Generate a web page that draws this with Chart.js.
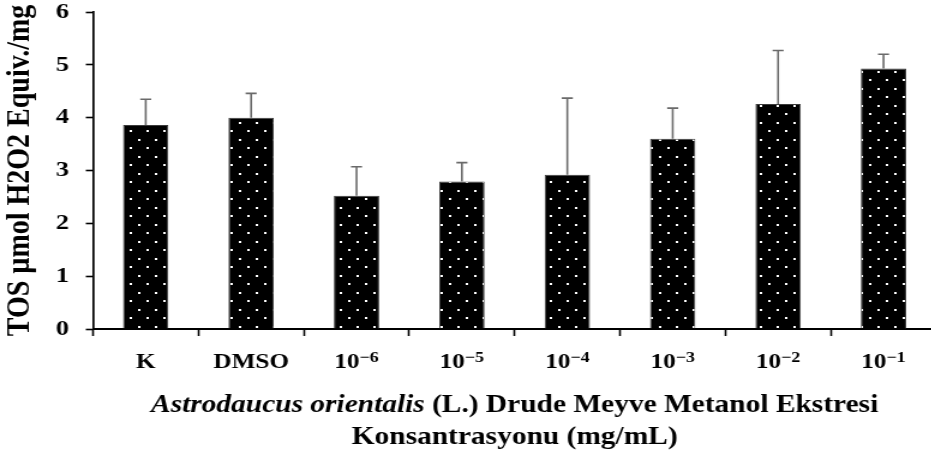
<!DOCTYPE html>
<html>
<head>
<meta charset="utf-8">
<script src="https://cdn.jsdelivr.net/npm/chart.js@4.4.1/dist/chart.umd.min.js"></script>
<style>
  html, body { margin: 0; padding: 0; overflow: hidden; background: #fff; }
  #wrap { width: 931px; height: 458px; overflow: hidden; }
  /* the figure is drawn on a 784-wide canvas and shown 1.2x wider */
  #c { display: block; width: 941px; height: 458px; }
</style>
</head>
<body>
<div id="wrap"><canvas id="c" width="784" height="458" style="width:941px;height:458px"></canvas></div>
<script>
// Categories (x axis)
const categories = ['K', 'DMSO', '10\u207B\u2076', '10\u207B\u2075', '10\u207B\u2074', '10\u207B\u00B3', '10\u207B\u00B2', '10\u207B\u00B9'];
// Mean TOS values (µmol H2O2 Equiv./mg)
const tosMeans = [3.86, 4.00, 2.52, 2.79, 2.92, 3.60, 4.26, 4.93];
// Upper error (standard deviation)
const tosErrors = [0.49, 0.46, 0.55, 0.36, 1.45, 0.58, 1.01, 0.27];
// Y axis ticks
const yTicks = [0, 1, 2, 3, 4, 5, 6];

const SERIF = '"Liberation Serif", "Times New Roman", serif';
const SUP = { '\u207B': '\u2212', '\u2070': '0', '\u00B9': '1', '\u00B2': '2', '\u00B3': '3', '\u2074': '4', '\u2075': '5', '\u2076': '6', '\u2077': '7', '\u2078': '8', '\u2079': '9' };

// black fill with a staggered grid of white dots
function dotPattern() {
  const t = document.createElement('canvas');
  t.width = 14; t.height = 17;
  const g = t.getContext('2d');
  g.fillStyle = '#000';
  g.fillRect(0, 0, 14, 17);
  g.fillStyle = '#fff';
  g.fillRect(3, 3, 2, 2);
  g.fillRect(10, 11, 2, 2);
  return document.getElementById('c').getContext('2d').createPattern(t, 'repeat');
}

// upward error bars with a cap
const errorBars = {
  id: 'errorBars',
  afterDatasetsDraw(chart) {
    const ctx = chart.ctx;
    const meta = chart.getDatasetMeta(0);
    const y = chart.scales.y;
    ctx.save();
    ctx.strokeStyle = '#6a6a6a';
    ctx.lineWidth = 1.6;
    meta.data.forEach((bar, i) => {
      const top = y.getPixelForValue(tosMeans[i] + tosErrors[i]);
      ctx.beginPath();
      ctx.moveTo(bar.x, bar.y);
      ctx.lineTo(bar.x, top);
      ctx.moveTo(bar.x - 4.6, top);
      ctx.lineTo(bar.x + 4.6, top);
      ctx.stroke();
    });
    ctx.restore();
  }
};

// category labels, with real superscript exponents for the concentrations
const xLabels = {
  id: 'xLabels',
  afterDraw(chart) {
    const ctx = chart.ctx;
    const xs = chart.scales.x;
    const baseY = 368;
    ctx.save();
    ctx.fillStyle = '#000';
    ctx.textBaseline = 'alphabetic';
    ctx.textAlign = 'left';
    categories.forEach((lab, i) => {
      const cx = xs.getPixelForValue(i);
      let base = '', exp = '';
      for (const ch of lab) {
        if (SUP[ch] !== undefined) exp += SUP[ch]; else base += ch;
      }
      ctx.font = 'bold 21px ' + SERIF;
      const wb = ctx.measureText(base).width;
      ctx.font = 'bold 15px ' + SERIF;
      const we = exp ? ctx.measureText(exp).width : 0;
      const x0 = cx - (wb + we) / 2;
      ctx.font = 'bold 21px ' + SERIF;
      ctx.fillText(base, x0, baseY);
      if (exp) {
        ctx.font = 'bold 15px ' + SERIF;
        ctx.fillText(exp, x0 + wb, baseY - 6);
      }
    });
    ctx.restore();
  }
};

// two-line x axis title, species name in italics
const xTitle = {
  id: 'xTitle',
  afterDraw(chart) {
    const ctx = chart.ctx;
    const a = chart.chartArea;
    const cx = (a.left + a.right) / 2;
    const size = 24.5;
    const part1 = 'Astrodaucus orientalis';
    const part2 = ' (L.) Drude Meyve Metanol Ekstresi';
    const line2 = 'Konsantrasyonu (mg/mL)';
    ctx.save();
    ctx.fillStyle = '#000';
    ctx.textBaseline = 'alphabetic';
    ctx.textAlign = 'left';
    ctx.font = 'italic bold ' + size + 'px ' + SERIF;
    const w1 = ctx.measureText(part1).width;
    ctx.font = 'bold ' + size + 'px ' + SERIF;
    const w2 = ctx.measureText(part2).width;
    const x = cx - (w1 + w2) / 2;
    ctx.font = 'italic bold ' + size + 'px ' + SERIF;
    ctx.fillText(part1, x, 411.5);
    ctx.font = 'bold ' + size + 'px ' + SERIF;
    ctx.fillText(part2, x + w1, 411.5);
    ctx.textAlign = 'center';
    ctx.fillText(line2, cx, 443.5);
    ctx.restore();
  }
};

new Chart(document.getElementById('c'), {
  type: 'bar',
  data: {
    labels: categories,
    datasets: [{
      data: tosMeans,
      backgroundColor: dotPattern(),
      borderColor: '#3a3a3a',
      borderWidth: 1,
      categoryPercentage: 1,
      barPercentage: 0.43
    }]
  },
  options: {
    responsive: false,
    animation: false,
    devicePixelRatio: 1,
    layout: { padding: { top: 12, right: 4, left: 0, bottom: 0 } },
    plugins: { legend: { display: false }, tooltip: { enabled: false } },
    scales: {
      x: {
        grid: { display: true, drawOnChartArea: false, tickLength: 7, tickWidth: 1.6, tickColor: '#000', offset: true },
        border: { display: true, color: '#000', width: 2 },
        ticks: { display: false, autoSkip: false },
        afterFit(s) { s.height = 129; }
      },
      y: {
        min: 0, max: 6,
        afterBuildTicks(s) { s.ticks = yTicks.map(v => ({ value: v })); },
        grid: { display: true, drawOnChartArea: false, tickLength: 6, tickWidth: 1.6, tickColor: '#000' },
        border: { display: true, color: '#000', width: 1.7 },
        ticks: { color: '#000', padding: 14, font: { family: SERIF, size: 22, weight: 'bold', lineHeight: 1 } },
        title: { display: true, text: 'TOS \u00B5mol H2O2 Equiv./mg', color: '#000', padding: 0, font: { family: SERIF, size: 28, weight: 'bold' } },
        afterFit(s) { s.width = 77.5; s.paddingTop = 0; s.paddingBottom = 0; }
      }
    }
  },
  plugins: [errorBars, xLabels, xTitle]
});
</script>
</body>
</html>
